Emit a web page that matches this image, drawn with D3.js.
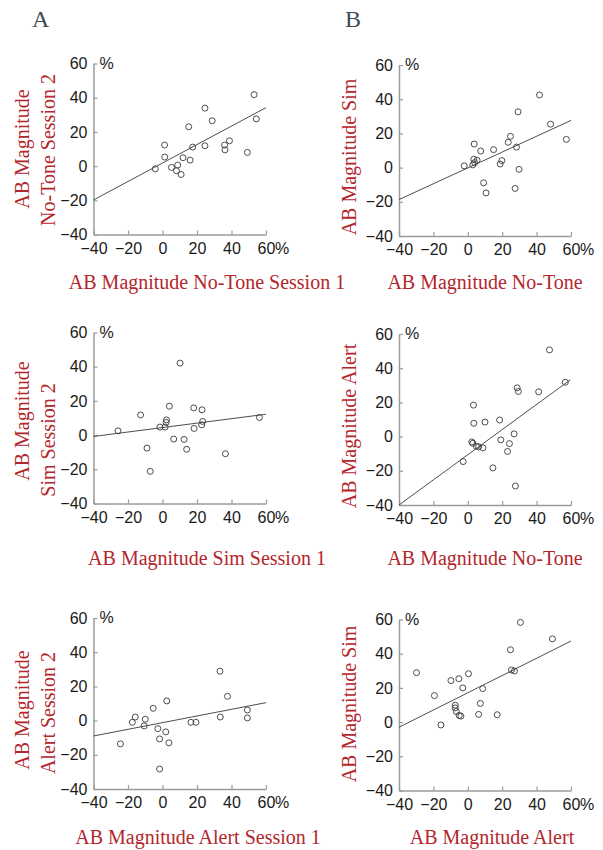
<!DOCTYPE html>
<html>
<head>
<meta charset="utf-8">
<script src="https://cdn.jsdelivr.net/npm/d3@7"></script>
<style>
  body { margin: 0; background: #fff; }
  svg { display: block; }
</style>
</head>
<body>
<svg width="603" height="850"></svg>
<script>
// Six scatter panels, each with a fitted line.

// 1. Data.
const ticks = [-40, -20, 0, 20, 40, 60];

// A1: No-Tone session 1 vs session 2
const noToneS1 = [-4.2, 1.2, 1.3, 5.2, 8.8, 8.1, 10.8, 11.9, 16.0, 15.2, 17.5, 24.6, 24.6, 28.8, 36.0, 36.2, 38.8, 49.2, 53.1, 54.4];
const noToneS2 = [-1.6, 12.3, 5.3, -0.8, 0.6, -2.7, -4.9, 4.9, 3.5, 23.0, 11.1, 33.9, 11.9, 26.5, 12.3, 9.5, 14.8, 8.0, 41.8, 27.6];
const fitA1 = [[-40, -19.8], [60, 34.2]];

// B1: No-Tone vs Sim
const noToneB1 = [-2.1, 2.9, 3.5, 3.7, 4.0, 5.4, 7.5, 9.2, 10.6, 15.0, 18.8, 19.8, 23.5, 24.8, 28.3, 27.5, 29.2, 29.8, 41.7, 48.1, 57.3];
const simB1 = [1.0, 1.6, 4.9, 13.8, 2.9, 4.3, 9.7, -8.9, -14.8, 10.5, 2.1, 4.1, 14.8, 18.3, 12.0, -12.2, 32.6, -1.0, 42.5, 25.4, 16.5];
const fitB1 = [[-40, -18.7], [60, 27.6]];

// A2: Sim session 1 vs session 2
const simS1 = [-25.8, -12.7, -9.0, -7.1, -1.5, 1.5, 2.1, 2.3, 4.0, 6.5, 10.2, 12.5, 14.0, 18.1, 18.3, 22.9, 22.7, 23.3, 36.5, 56.2];
const simS2 = [2.5, 11.8, -7.6, -21.2, 4.7, 4.7, 7.4, 8.9, 16.9, -2.3, 42.1, -2.5, -8.3, 15.9, 3.9, 14.8, 6.0, 8.0, -10.9, 10.3];
const fitA2 = [[-40, -0.8], [60, 12.2]];

// B2: No-Tone vs Alert
const noToneB2 = [-2.7, 2.3, 2.9, 3.3, 3.5, 5.0, 6.3, 8.8, 10.0, 14.6, 18.5, 19.2, 23.1, 24.2, 26.9, 27.7, 28.7, 29.4, 41.2, 47.5, 56.7];
const alertB2 = [-14.6, -3.1, -3.9, 18.4, 7.8, -5.6, -6.0, -6.6, 8.5, -18.3, 9.7, -1.9, -8.7, -4.1, 1.6, -28.9, 28.5, 26.4, 26.2, 50.7, 31.8];
const fitB2 = [[-40, -40], [59.6, 33.2]];

// A3: Alert session 1 vs session 2
const alertS1 = [-24.4, -17.5, -15.8, -10.6, -10.0, -5.4, -2.7, -1.7, -1.7, 1.9, 2.5, 3.7, 16.5, 19.4, 33.3, 33.5, 37.7, 49.2, 49.2];
const alertS2 = [-13.6, -1.0, 2.1, -3.1, 0.8, 7.2, -4.7, -10.7, -28.3, -6.6, 11.5, -13.0, -1.0, -1.0, 28.9, 2.1, 14.2, 6.2, 1.6];
const fitA3 = [[-40, -9.0], [60, 10.5]];

// B3: Alert vs Sim
const alertB3 = [-29.8, -19.4, -15.6, -9.8, -7.3, -7.3, -6.7, -5.2, -5.0, -4.0, -2.9, 0.4, 6.3, 7.3, 8.7, 17.1, 24.8, 25.4, 27.1, 30.6, 49.2];
const simB3 = [28.9, 15.5, -1.7, 24.3, 9.9, 8.3, 6.2, 25.4, 3.9, 3.5, 20.0, 28.3, 4.5, 10.9, 19.6, 4.3, 42.3, 30.5, 29.9, 58.3, 48.7];
const fitB3 = [[-40, -3.0], [60, 47.4]];

// 2. Layout.
const red = '#b3262c';
const axisGrey = '#9b9b9b';
const tickFont = '"Liberation Sans", Arial, sans-serif';
const cols = [{ x0: 93.5, x1: 266 }, { x0: 399, x1: 571 }];
const rows = [{ top: 63.5, bottom: 234.5 }, { top: 332.5, bottom: 503.5 }, { top: 618, bottom: 789 }];

const panels = [
  { col: 0, row: 0, xs: noToneS1, ys: noToneS2, fit: fitA1,
    xLabel: 'AB Magnitude No-Tone Session 1', xl: [207, 289],
    yLabel: [['AB Magnitude', 22, 149], ['No-Tone Session 2', 48, 150]] },
  { col: 1, row: 0, xs: noToneB1, ys: simB1, fit: fitB1,
    xLabel: 'AB Magnitude No-Tone', xl: [485, 289],
    yLabel: [['AB Magnitude Sim', 349, 157]] },
  { col: 0, row: 1, xs: simS1, ys: simS2, fit: fitA2,
    xLabel: 'AB Magnitude Sim Session 1', xl: [207, 565],
    yLabel: [['AB Magnitude', 22, 421], ['Sim Session 2', 48, 440]] },
  { col: 1, row: 1, xs: noToneB2, ys: alertB2, fit: fitB2,
    xLabel: 'AB Magnitude No-Tone', xl: [485, 565],
    yLabel: [['AB Magnitude Alert', 349, 426]] },
  { col: 0, row: 2, xs: alertS1, ys: alertS2, fit: fitA3,
    xLabel: 'AB Magnitude Alert Session 1', xl: [198, 844],
    yLabel: [['AB Magnitude', 22, 710], ['Alert Session 2', 48, 713]] },
  { col: 1, row: 2, xs: alertB3, ys: simB3, fit: fitB3,
    xLabel: 'AB Magnitude Alert', xl: [492, 844],
    yLabel: [['AB Magnitude Sim', 349, 704]] }
];

const svg = d3.select('svg');

// 3. Panel letters.
svg.selectAll('text.letter')
  .data([['A', 32], ['B', 345]])
  .enter()
  .append('text')
  .attr('class', 'letter')
  .attr('x', d => d[1])
  .attr('y', 27)
  .style('font-family', '"Liberation Serif", serif')
  .style('font-size', '24px')
  .style('fill', '#3d4b57')
  .text(d => d[0]);

// 4. Build each panel.
panels.forEach(p => {
  const c = cols[p.col];
  const r = rows[p.row];
  const shift = p.col === 1 ? 1.5 : 0;
  const top = r.top + shift;
  const bottom = r.bottom + shift;

  const xScale = d3.scaleLinear().domain([-40, 60]).range([c.x0, c.x1]);
  const yScale = d3.scaleLinear().domain([-40, 60]).range([bottom, top]);

  const g = svg.append('g');

  // Axes, ticks pointing inward.
  const xAxis = g.append('g')
    .attr('transform', `translate(0,${bottom})`)
    .call(d3.axisBottom(xScale).tickValues(ticks).tickSizeInner(-4).tickSizeOuter(0).tickPadding(8));
  const yAxis = g.append('g')
    .attr('transform', `translate(${c.x0},0)`)
    .call(d3.axisLeft(yScale).tickValues(ticks).tickSizeInner(-4).tickSizeOuter(0).tickPadding(6));

  [xAxis, yAxis].forEach(a => {
    a.select('.domain').attr('stroke', axisGrey).attr('stroke-width', 1.5);
    a.selectAll('.tick line').attr('stroke', axisGrey).attr('stroke-width', 1.2);
    a.selectAll('.tick text')
      .style('font-family', tickFont)
      .style('font-size', '16px')
      .attr('fill', '#1a1a1a');
  });

  // Percent signs.
  g.append('text')
    .attr('x', c.x1 + 9)
    .attr('y', bottom + 8)
    .attr('dy', '0.71em')
    .style('font-family', tickFont)
    .style('font-size', '16px')
    .attr('fill', '#1a1a1a')
    .text('%');
  g.append('text')
    .attr('x', c.x0 + 6)
    .attr('y', top)
    .attr('dy', '0.32em')
    .style('font-family', tickFont)
    .style('font-size', '16px')
    .attr('fill', '#1a1a1a')
    .text('%');

  // Fitted line.
  g.append('line')
    .attr('x1', xScale(p.fit[0][0]))
    .attr('y1', yScale(p.fit[0][1]))
    .attr('x2', xScale(p.fit[1][0]))
    .attr('y2', yScale(p.fit[1][1]))
    .style('stroke', '#3a3a3a')
    .style('stroke-width', 0.9);

  // Points.
  g.selectAll('circle')
    .data(p.xs.map((x, i) => [x, p.ys[i]]))
    .enter()
    .append('circle')
    .attr('cx', d => xScale(d[0]))
    .attr('cy', d => yScale(d[1]))
    .attr('r', 3)
    .style('fill', 'none')
    .style('stroke', '#3a3a3a')
    .style('stroke-width', 0.9);

  // Axis titles.
  g.append('text')
    .attr('x', p.xl[0])
    .attr('y', p.xl[1])
    .attr('text-anchor', 'middle')
    .style('font-family', '"Liberation Serif", serif')
    .style('font-size', '20px')
    .style('fill', red)
    .text(p.xLabel);

  g.selectAll('text.ylab')
    .data(p.yLabel)
    .enter()
    .append('text')
    .attr('class', 'ylab')
    .attr('transform', d => `translate(${d[1]},${d[2]}) rotate(-90)`)
    .attr('text-anchor', 'middle')
    .attr('dy', '0.35em')
    .style('font-family', '"Liberation Serif", serif')
    .style('font-size', '20px')
    .style('fill', red)
    .text(d => d[0]);
});
</script>
</body>
</html>
